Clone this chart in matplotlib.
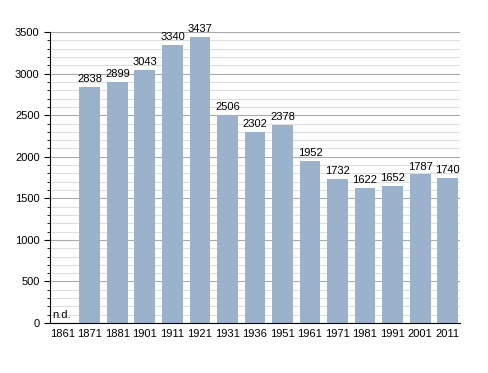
import numpy as np
import matplotlib
matplotlib.use("Agg")
import matplotlib.pyplot as plt
from matplotlib.ticker import MultipleLocator

plt.rcParams['font.family'] = ['Liberation Sans', 'DejaVu Sans']

# data
years = ["1861", "1871", "1881", "1901", "1911", "1921", "1931", "1936",
         "1951", "1961", "1971", "1981", "1991", "2001", "2011"]
population = [0, 2838, 2899, 3043, 3340, 3437, 2506, 2302,
              2378, 1952, 1732, 1622, 1652, 1787, 1740]

fig = plt.figure(figsize=(4.88, 3.73), dpi=100)
ax = fig.add_axes([0.1025, 0.134, 0.84, 0.78])

x = np.arange(len(years))
for i, v in enumerate(population):
    if i == 0:
        # no data for the first census
        ax.text(x[i] - 0.38, 40, "n.d.", fontsize=8, ha="left", va="bottom")
        continue
    ax.bar(x[i], v, width=0.76, color="#9ab2cc", zorder=2)
    ax.text(x[i], v + 35, str(v), ha="center", va="bottom", fontsize=8)

ax.set_xlim(-0.45, 14.45)
ax.set_ylim(0, 3500)
ax.yaxis.set_major_locator(MultipleLocator(500))
ax.yaxis.set_minor_locator(MultipleLocator(100))
ax.grid(which="major", axis="y", color="#aaaaaa", lw=0.8, zorder=0)
ax.grid(which="minor", axis="y", color="#dedede", lw=0.8, zorder=0)

ax.set_xticks(x)
ax.set_xticklabels(years)
ax.tick_params(axis="x", length=0, labelsize=8, pad=4)
ax.tick_params(axis="y", which="major", length=4, labelsize=8)
ax.tick_params(axis="y", which="minor", length=2)

for s in ["top", "right"]:
    ax.spines[s].set_visible(False)
ax.spines["left"].set_color("black")
ax.spines["bottom"].set_color("black")

fig.savefig("out.png", dpi=100)
